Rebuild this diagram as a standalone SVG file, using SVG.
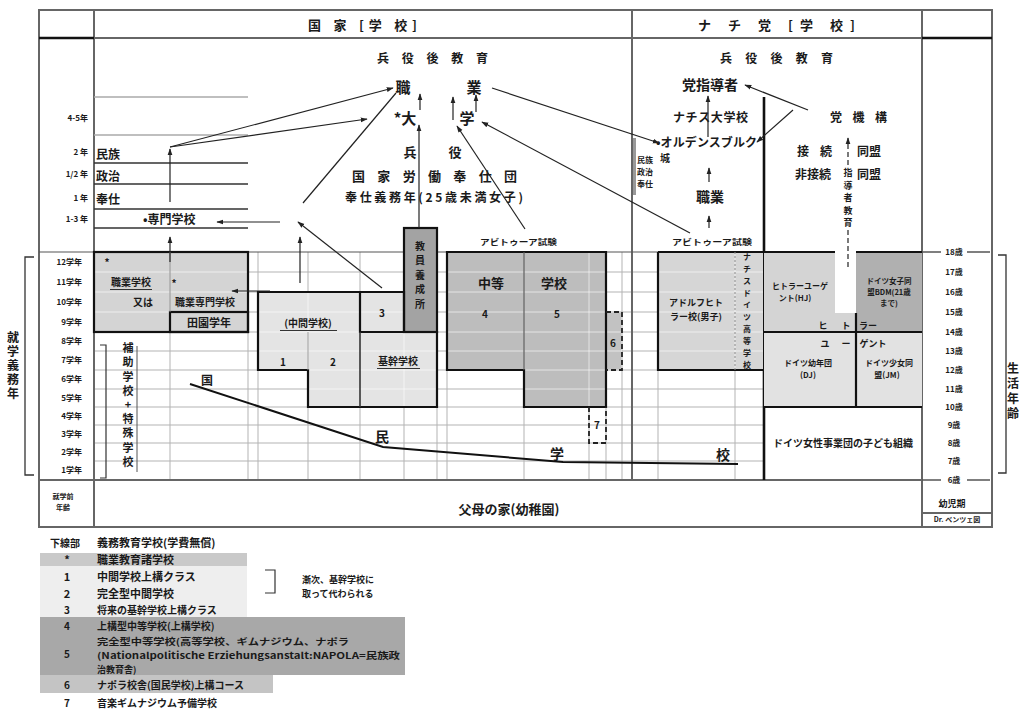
<svg xmlns="http://www.w3.org/2000/svg" width="1022" height="715" viewBox="0 0 1022 715">
<defs>
<style>
text{font-family:"Noto Sans CJK JP","Noto Sans",sans-serif;font-weight:700;fill:#1a1a1a}
.f7{font-size:7px}.f75{font-size:7.5px}.f8{font-size:8px}.f9{font-size:9px}.f10{font-size:10px}.f11{font-size:11px}.f12{font-size:12px}.f13{font-size:13px}.f14{font-size:14px}.f15{font-size:15px}
.m{text-anchor:middle}.e{text-anchor:end}
.v{writing-mode:vertical-rl;text-orientation:upright}
.gl{stroke:#b3b3b3;stroke-width:1;fill:none}
.wl{stroke:#ffffff;stroke-opacity:.6;stroke-width:1;fill:none}
.tk{stroke:#111;stroke-width:2.2;fill:none}
.fr{stroke:#666;stroke-width:2;fill:none}
.ar{stroke:#222;stroke-width:1.2;fill:none;marker-end:url(#ah)}
.ln{stroke:#222;stroke-width:1.2;fill:none}
.ds{stroke:#222;stroke-width:1.8;fill:none;stroke-dasharray:5 3}
.ul{stroke:#333;stroke-width:1}
</style>
<marker id="ah" viewBox="0 0 10 10" refX="9" refY="5" markerWidth="7" markerHeight="7" markerUnits="userSpaceOnUse" orient="auto"><path d="M0,1.5L10,5L0,8.5z" fill="#222"/></marker>
<path id="grid" d="M94,272H763M94,292H763M94,312H763M94,332H763M94,351H763M94,370H763M94,389H763M94,407H763M94,425H763M94,443H763M94,461H763M170,252V480M248,252V480M258,252V480M308,252V480M360,252V480M404,252V480M437,252V480M447,252V480M524,252V480M589,252V480M606,252V480M622,252V480M658,252V480M735,252V480"/>
<clipPath id="blk">
<rect x="94" y="252" width="154" height="80"/>
<polygon points="258,292 404,292 404,332 437,332 437,407 308,407 308,370 258,370"/>
<polygon points="447,252 606,252 606,407 524,407 524,370 447,370"/>
<rect x="606" y="312" width="16" height="58"/>
<rect x="658" y="252" width="105" height="118"/>
</clipPath>
</defs>
<rect width="1022" height="715" fill="#fff"/>

<g id="gridlines">
<use href="#grid" class="gl"/>
</g>

<g id="frame">
<rect x="39" y="10" width="953" height="517" class="fr"/>
<path class="fr" d="M94,10V527M632,10V480M922,10V527M39,480H922M94,38H922M922,513H992"/>
<path d="M39,38H94M922,38H992" stroke="#111" stroke-width="2.6"/>
<path d="M39,252H763" stroke="#555" stroke-width="1.2"/>
<path d="M922,252H941M967,252H990M922,480H941M967,480H990" stroke="#555" stroke-width="1.5"/>
<path d="M94,97H248M94,135H248" stroke="#aaa" stroke-width="1.5"/>
<path d="M94,163H248M94,184H248M94,209H248M94,228H248" stroke="#333" stroke-width="1.3"/>
<path d="M764,97V480" stroke="#111" stroke-width="2.6"/>
<rect x="633" y="138" width="3" height="57" fill="#999"/>
</g>

<g id="header-state"><text x="308" y="30" class="f13" textLength="109" lengthAdjust="spacing">国 家 [学 校]</text></g>
<g id="header-party"><text x="698" y="30" class="f13" textLength="157" lengthAdjust="spacing">ナ チ 党 [学 校]</text></g>
<g id="post-military-state"><text x="377" y="63" class="f12" textLength="111" lengthAdjust="spacing">兵役後教育</text></g>
<g id="post-military-party"><text x="720" y="63" class="f12" textLength="113" lengthAdjust="spacing">兵役後教育</text></g>

<g id="vocational-block">
<rect x="94" y="252" width="154" height="80" fill="#d4d4d4"/>
</g>
<g id="middle-school-block">
<polygon points="258,292 404,292 404,332 437,332 437,407 308,407 308,370 258,370" fill="#e4e4e4"/>
</g>
<g id="secondary-block">
<polygon points="447,252 606,252 606,407 524,407 524,370 447,370" fill="#bdbdbd"/>
<rect x="606" y="312" width="16" height="58" fill="#c2c2c2"/>
</g>
<g id="adolf-hitler-school">
<rect x="658" y="252" width="105" height="118" fill="#d6d6d6"/>
</g>
<g id="hj-block">
<polygon points="764,252 835,252 835,313 856,313 856,332 764,332" fill="#d4d4d4"/>
<rect x="856" y="252" width="66" height="80" fill="#b0b0b0"/>
<rect x="764" y="332" width="92" height="75" fill="#e2e2e2"/>
<rect x="856" y="332" width="66" height="75" fill="#e2e2e2"/>
</g>
<g clip-path="url(#blk)"><use href="#grid" class="wl"/></g>

<g id="teacher-college">
<rect x="404" y="228" width="33" height="104" style="fill:#a3a3a3;stroke:#111;stroke-width:2.2"/>
</g>

<g id="outlines">
<rect x="94" y="252" width="154" height="80" class="tk"/>
<rect x="170" y="312" width="78" height="20" class="tk"/>
<path d="M170,252V312" stroke="#888" stroke-width="1"/>
<polygon points="258,292 404,292 404,332 437,332 437,407 308,407 308,370 258,370" class="tk"/>
<path d="M360,292V332H404" class="tk"/>
<path d="M360,332V407" stroke="#333" stroke-width="1.6"/>
<path d="M308,332V370" stroke="#999" stroke-width="1"/>
<polygon points="447,252 606,252 606,407 524,407 524,370 447,370" class="tk"/>
<path d="M524,252V370" stroke="#555" stroke-width="1.2"/>
<path d="M606,312H622V370H606" class="ds"/>
<path d="M589,407V443H606V407" class="ds"/>
<path d="M658,252V370H764M658,252H764" class="tk"/>
<path d="M735,252V370" stroke="#888" stroke-width="1" stroke-dasharray="2 2"/>
<path d="M764,252H835M856,252H922M764,332H922M856,313V407M764,407H922" class="tk"/>
</g>

<g id="left-labels">
<text x="88" y="121" class="f8 e">4-5年</text>
<text x="88" y="155" class="f8 e">2 年</text>
<text x="88" y="177" class="f8 e">1/2 年</text>
<text x="88" y="201" class="f8 e">1 年</text>
<text x="88" y="222" class="f8 e">1-3 年</text>
<text x="82" y="265" class="f8 e">12学年</text>
<text x="82" y="285" class="f8 e">11学年</text>
<text x="82" y="305" class="f8 e">10学年</text>
<text x="82" y="325" class="f8 e">9学年</text>
<text x="82" y="344" class="f8 e">8学年</text>
<text x="82" y="363" class="f8 e">7学年</text>
<text x="82" y="382" class="f8 e">6学年</text>
<text x="82" y="401" class="f8 e">5学年</text>
<text x="82" y="419" class="f8 e">4学年</text>
<text x="82" y="437" class="f8 e">3学年</text>
<text x="82" y="455" class="f8 e">2学年</text>
<text x="82" y="473" class="f8 e">1学年</text>
<path d="M34,257H25V475H34" stroke="#333" stroke-width="1.3" fill="none"/>
<text x="13" y="331" class="f12 v" style="letter-spacing:2px">就学義務年</text>
<text x="63" y="499" class="f7 m">就学前</text>
<text x="63" y="509.5" class="f7 m">年齢</text>
</g>

<g id="right-labels">
<text x="954" y="255" class="f8 m">18歳</text>
<text x="954" y="275" class="f8 m">17歳</text>
<text x="954" y="295" class="f8 m">16歳</text>
<text x="954" y="315" class="f8 m">15歳</text>
<text x="954" y="335" class="f8 m">14歳</text>
<text x="954" y="354" class="f8 m">13歳</text>
<text x="954" y="373" class="f8 m">12歳</text>
<text x="954" y="392" class="f8 m">11歳</text>
<text x="954" y="410" class="f8 m">10歳</text>
<text x="954" y="428" class="f8 m">9歳</text>
<text x="954" y="446" class="f8 m">8歳</text>
<text x="954" y="464" class="f8 m">7歳</text>
<text x="954" y="483" class="f8 m">6歳</text>
<path d="M998,255H1006V473H998" stroke="#333" stroke-width="1.3" fill="none"/>
<text x="1013" y="362" class="f12 v" style="letter-spacing:3px">生活年齢</text>
<text x="952" y="507" class="f9 m">幼児期</text>
<text x="957" y="522" class="f7 m">Dr. ベンツェ図</text>
</g>

<g id="civic-service">
<text x="96" y="159" class="f12">民族</text>
<text x="96" y="181" class="f12">政治</text>
<text x="96" y="204" class="f12">奉仕</text>
<text x="143" y="224" class="f12">•専門学校</text>
</g>

<g id="state-upper">
<text x="403" y="93" class="f15 m">職</text>
<text x="474" y="93" class="f15 m">業</text>
<text x="405" y="124" class="f15 m">*大</text>
<text x="467" y="124" class="f15 m">学</text>
<text x="410" y="157" class="f13 m">兵</text>
<text x="455" y="157" class="f13 m">役</text>
<text x="352" y="181" class="f13" textLength="165" lengthAdjust="spacing">国家労働奉仕団</text>
<text x="345" y="202" class="f12" textLength="178" lengthAdjust="spacing">奉仕義務年(25歳未満女子)</text>
<text x="480" y="245" class="f8" textLength="77" lengthAdjust="spacingAndGlyphs">アビトゥーア試験</text>
</g>

<g id="party-upper">
<text x="682" y="90" class="f14">党指導者</text>
<text x="673" y="122" class="f12" textLength="75" lengthAdjust="spacing">ナチス大学校</text>
<text x="656" y="147" class="f12" textLength="101" lengthAdjust="spacing">•オルデンスブルク</text>
<text x="665" y="162" class="f10 m">城</text>
<text x="637" y="163" class="f8">民族</text>
<text x="637" y="175" class="f8">政治</text>
<text x="637" y="187" class="f8">奉仕</text>
<text x="710" y="202" class="f14 m">職業</text>
<text x="672" y="245" class="f8" textLength="80" lengthAdjust="spacingAndGlyphs">アビトゥーア試験</text>
<text x="830" y="122" class="f12" textLength="57" lengthAdjust="spacing">党機構</text>
<text x="797" y="156" class="f12" textLength="35" lengthAdjust="spacing">接続</text>
<text x="857" y="156" class="f12">同盟</text>
<text x="795" y="179" class="f12">非接続</text>
<text x="857" y="179" class="f12">同盟</text>
<text x="848" y="168.5" class="f9 v" style="letter-spacing:3.5px">指導者教育</text>
</g>

<g id="vocational-texts">
<text x="107" y="266" class="f10 m">*</text>
<text x="131" y="286" class="f10 m">職業学校</text>
<path d="M110,289.5H152" class="ul"/>
<text x="174" y="287" class="f10 m">*</text>
<text x="153" y="306" class="f10 e">又は</text>
<text x="205" y="306" class="f10 m">職業専門学校</text>
<text x="209" y="327" class="f11 m">田園学年</text>
</g>
<g id="middle-texts">
<text x="308" y="327" class="f10 m">(中間学校)</text>
<path d="M280,330.5H337" class="ul"/>
<text x="283" y="366" class="f10 m">1</text>
<text x="333" y="366" class="f10 m">2</text>
<text x="382" y="317" class="f10 m">3</text>
<text x="398" y="365" class="f10 m">基幹学校</text>
<path d="M377,368.5H420" class="ul"/>
</g>
<g id="teacher-college-text">
<text x="420" y="241" class="f10 v" style="letter-spacing:4.5px">教員養成所</text>
</g>
<g id="secondary-texts">
<text x="491" y="288" class="f13 m">中等</text>
<text x="554" y="288" class="f13 m">学校</text>
<text x="485" y="318" class="f10 m">4</text>
<text x="557" y="318" class="f10 m">5</text>
<text x="613" y="347" class="f10 m">6</text>
<text x="597" y="429" class="f10 m">7</text>
</g>
<g id="special-school">
<path d="M100,345H106V478H100" stroke="#333" stroke-width="1.2" fill="none"/>
<path d="M137,346V472" stroke="#555" stroke-width="1"/>
<text x="128" y="342.5" class="f11 v" style="letter-spacing:3.2px">補助学校+特殊学校</text>
</g>
<g id="volksschule">
<text x="207" y="385" class="f12 m">国</text>
<text x="382" y="442" class="f14 m">民</text>
<text x="557" y="459" class="f14 m">学</text>
<text x="723" y="460" class="f14 m">校</text>
</g>

<g id="ah-school-text">
<text x="696" y="306" class="f9 m">アドルフヒト</text>
<text x="696" y="320" class="f9 m">ラー校(男子)</text>
<text x="747" y="252.5" class="f8 v" style="letter-spacing:4px">ナチスドイツ高等学校</text>
</g>
<g id="hj-texts">
<text x="800" y="289" class="f8 m">ヒトラーユーゲ</text>
<text x="795" y="300.5" class="f8 m">ント(HJ)</text>
<text x="889" y="284" class="f75 m">ドイツ女子同</text>
<text x="889" y="295" class="f75 m">盟BDM(21歳</text>
<text x="889" y="306" class="f75 m">まで)</text>
<text x="823" y="329" class="f9 m">ヒ</text>
<text x="846" y="329" class="f9 m">ト</text>
<text x="868" y="329" class="f9 m">ラー</text>
<text x="825" y="347" class="f9 m">ユ</text>
<text x="846" y="347" class="f9 m">ー</text>
<text x="873" y="347" class="f9 m">ゲント</text>
<text x="808" y="366" class="f8 m">ドイツ幼年団</text>
<text x="808" y="377.6" class="f8 m">(DJ)</text>
<text x="889" y="366" class="f8 m">ドイツ少女同</text>
<text x="887" y="377.6" class="f8 m">盟(JM)</text>
<text x="843" y="447" class="f10 m">ドイツ女性事業団の子ども組織</text>
</g>

<g id="kindergarten">
<text x="509" y="514" class="f13 m">父母の家(幼稚園)</text>
</g>

<g id="connectors">
<path class="ar" d="M170,202V149"/>
<path class="ar" d="M170,147L393,88"/>
<path class="ar" d="M170,147L367,119"/>
<path class="ln" d="M303,203L396,93"/>
<path class="ar" d="M280,222H217"/>
<path class="ar" d="M382,288L298,222"/>
<path class="ar" d="M170,262V237"/>
<path class="ar" d="M300,283V237"/>
<path class="ar" d="M270,291H232"/>
<path class="ar" d="M420,110V94"/>
<path class="ar" d="M419,228V125"/>
<path class="ar" d="M453,120V97"/>
<path class="ar" d="M476,112V95"/>
<path class="ar" d="M525,229L457,126"/>
<path class="ar" d="M690,233L482,122"/>
<path class="ar" d="M492,88L659,143"/>
<path class="ar" d="M808,110L745,85"/>
<path class="ar" d="M793,110L757,142"/>
<path class="ar" d="M708,137V96"/>
<path class="ar" d="M709,182V168"/>
<path class="ar" d="M709,228V216"/>
<path d="M848,165V138" stroke="#222" stroke-width="1.2" stroke-dasharray="5 3" marker-end="url(#ah)"/>
<path d="M848,230V267" stroke="#222" stroke-width="1.2" stroke-dasharray="5 3"/>
<polyline points="190,384 383,447 563,462 738,464" fill="none" stroke="#111" stroke-width="2"/>
</g>

<g id="legend">
<rect x="40" y="553" width="207" height="13" fill="#c9c9c9"/>
<rect x="40" y="566" width="207" height="51" fill="#eeeeee"/>
<rect x="40" y="617" width="365" height="58" fill="#a8a8a8"/>
<rect x="40" y="675" width="233" height="18" fill="#c4c4c4"/>
<text x="50" y="547" class="f10">下線部</text>
<text x="97" y="547" class="f11">義務教育学校(学費無償)</text>
<text x="67" y="564" class="f11 m">*</text>
<text x="97" y="564" class="f11">職業教育諸学校</text>
<text x="67" y="581" class="f11 m">1</text>
<text x="97" y="581" class="f11">中間学校上構クラス</text>
<text x="67" y="598" class="f11 m">2</text>
<text x="97" y="598" class="f11">完全型中間学校</text>
<text x="67" y="614" class="f10 m">3</text>
<text x="97" y="614" class="f10">将来の基幹学校上構クラス</text>
<path d="M265,570H275V593H265" stroke="#333" stroke-width="1.2" fill="none"/>
<text x="302" y="583" class="f9">漸次、基幹学校に</text>
<text x="302" y="597" class="f9">取って代わられる</text>
<text x="67" y="630" class="f10 m">4</text>
<text x="97" y="630" class="f10">上構型中等学校(上構学校)</text>
<text x="67" y="658" class="f10 m">5</text>
<text x="97" y="645" class="f9" textLength="252" lengthAdjust="spacingAndGlyphs">完全型中等学校(高等学校、ギムナジウム、ナポラ</text>
<text x="97" y="659" class="f9" textLength="303" lengthAdjust="spacingAndGlyphs">(Nationalpolitische Erziehungsanstalt:NAPOLA=民族政</text>
<text x="97" y="673" class="f9">治教育舎)</text>
<text x="67" y="689" class="f10 m">6</text>
<text x="97" y="689" class="f10">ナポラ校舎(国民学校)上構コース</text>
<text x="67" y="707" class="f10 m">7</text>
<text x="97" y="707" class="f10">音楽ギムナジウム予備学校</text>
</g>
</svg>
